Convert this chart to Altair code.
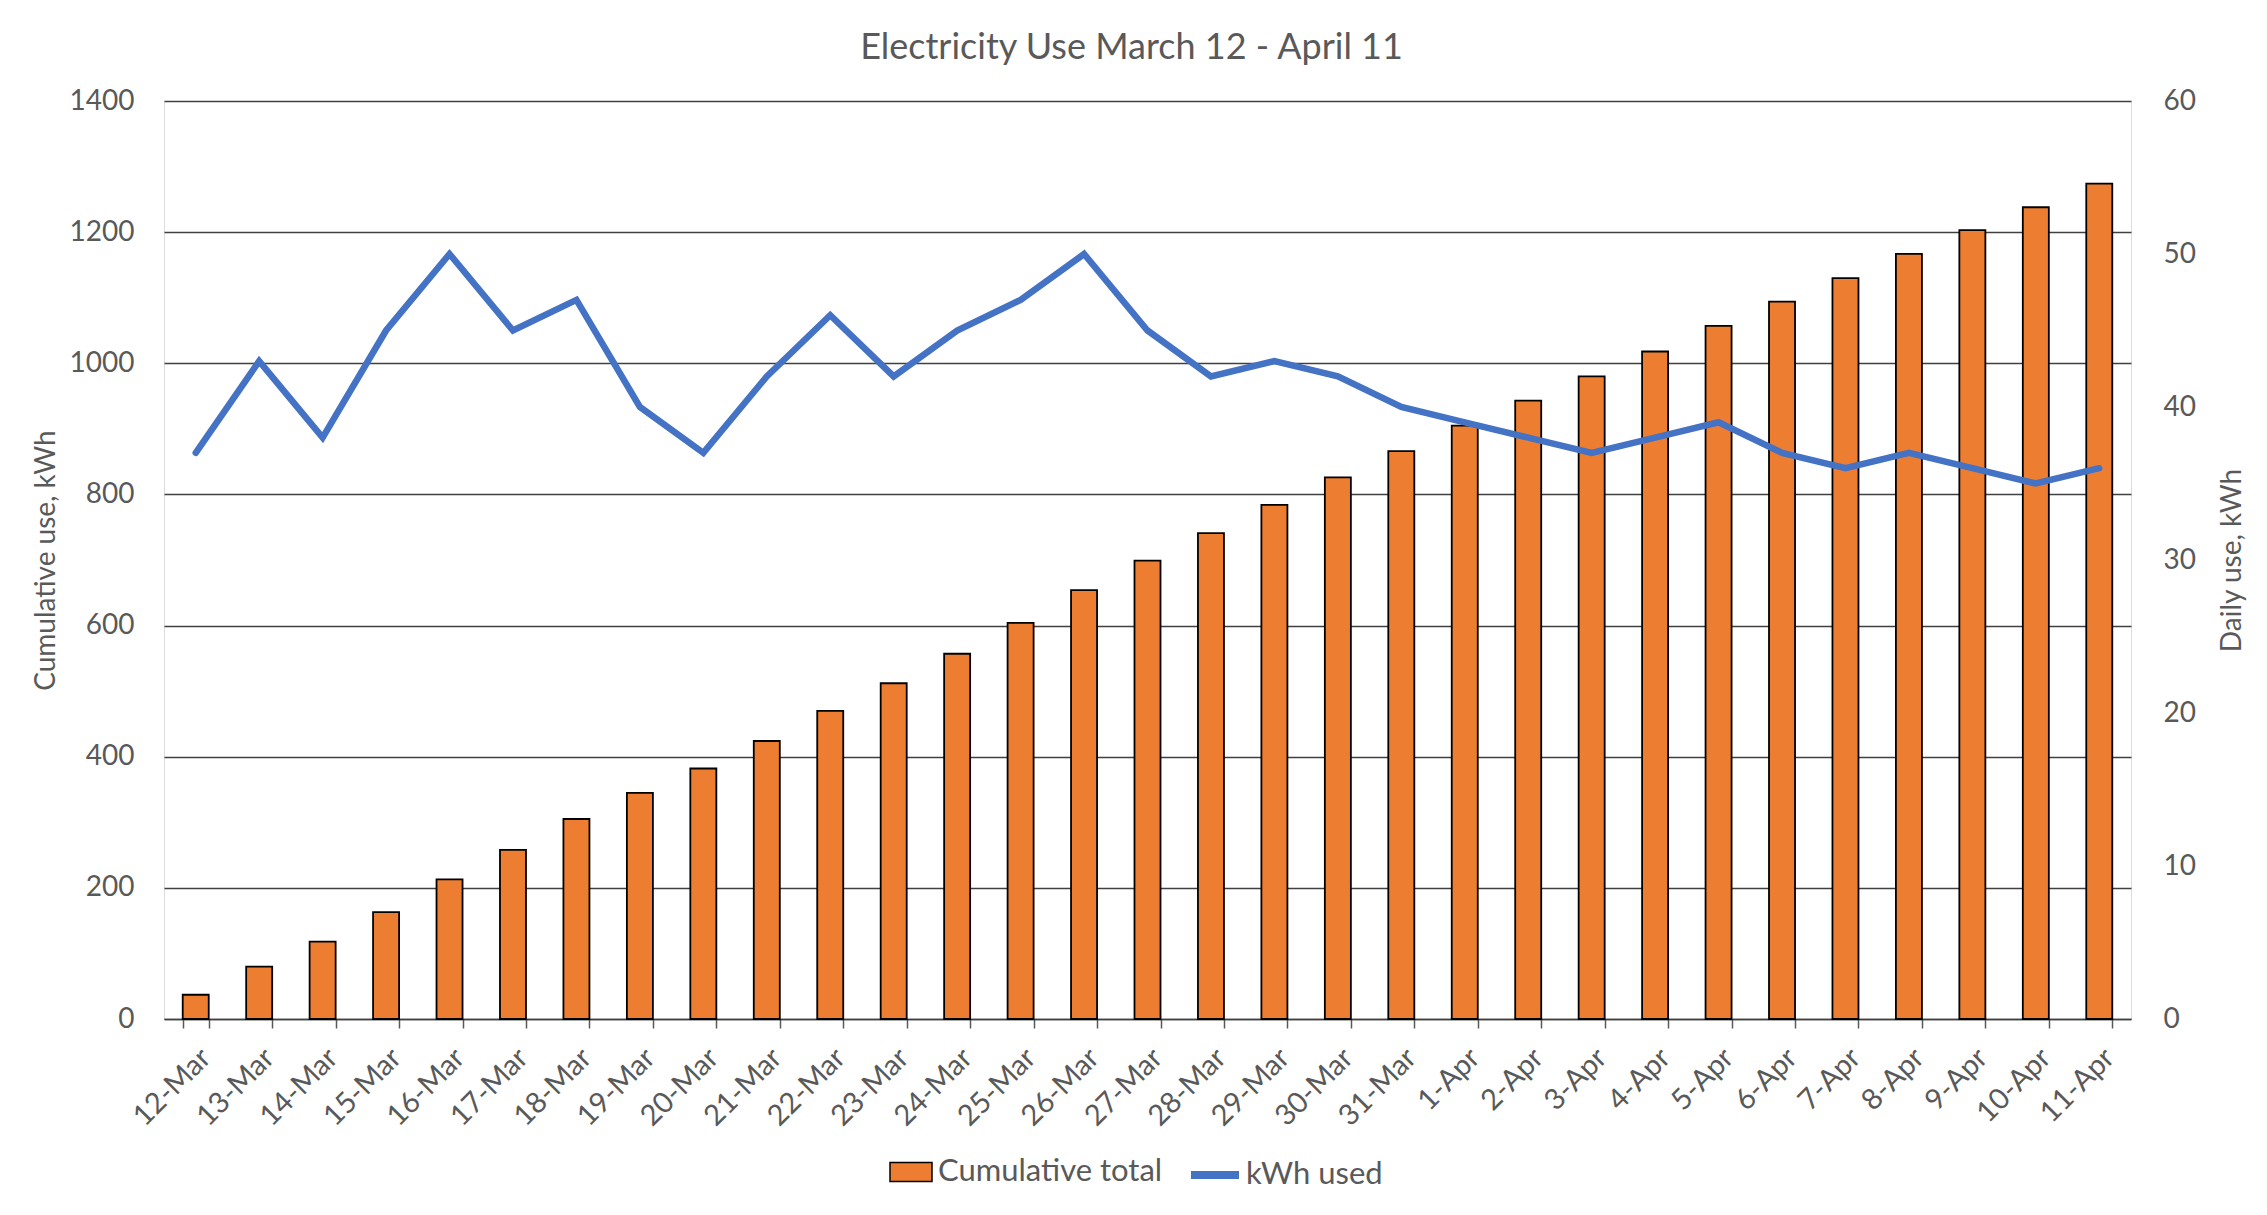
import altair as alt
import pandas as pd

dates = ["12-Mar", "13-Mar", "14-Mar", "15-Mar", "16-Mar", "17-Mar", "18-Mar",
         "19-Mar", "20-Mar", "21-Mar", "22-Mar", "23-Mar", "24-Mar", "25-Mar",
         "26-Mar", "27-Mar", "28-Mar", "29-Mar", "30-Mar", "31-Mar",
         "1-Apr", "2-Apr", "3-Apr", "4-Apr", "5-Apr", "6-Apr", "7-Apr",
         "8-Apr", "9-Apr", "10-Apr", "11-Apr"]
cumulative = [37, 80, 118, 163, 213, 258, 305, 345, 382, 424, 470, 512, 557, 604,
              654, 699, 741, 784, 826, 866, 905, 943, 980, 1018, 1057, 1094, 1130,
              1167, 1203, 1238, 1274]
daily = [37, 43, 38, 45, 50, 45, 47, 40, 37, 42, 46, 42, 45, 47, 50, 45, 42, 43,
         42, 40, 39, 38, 37, 38, 39, 37, 36, 37, 36, 35, 36]
left_ticks = [0, 200, 400, 600, 800, 1000, 1200, 1400]
right_ticks = [0, 10, 20, 30, 40, 50, 60]
bar_name = "Cumulative total"
line_name = "kWh used"

df = pd.DataFrame({
    "date": dates,
    "cumulative": cumulative,
    "daily": daily,
    "bar_series": [bar_name] * len(dates),
    "line_series": [line_name] * len(dates),
})

FONT = "Lato"
TXT = "#595959"
W, H = 1967, 918

x = alt.X(
    "date:N", sort=dates, title=None,
    scale=alt.Scale(paddingInner=0.59, paddingOuter=0.295),
    axis=alt.Axis(
        labelAngle=-45, labelAlign="right", labelBaseline="top", labelPadding=15,
        tickBand="extent", tickSize=9, tickColor="#595959", tickWidth=1.5,
        domainColor="#404040", domainWidth=1.5, grid=False,
        labelFontSize=29, labelColor=TXT, labelFont=FONT,
    ),
)

base = alt.Chart(df)

bars = base.mark_bar(stroke="black", strokeWidth=1.8).encode(
    x=x,
    y=alt.Y(
        "cumulative:Q",
        scale=alt.Scale(domain=[0, 1400], nice=False),
        axis=alt.Axis(
            values=left_ticks, format="d", title="Cumulative use, kWh", grid=True,
            gridColor="#404040", gridWidth=1.4, domain=False, ticks=False,
            labelPadding=30, labelFontSize=28, labelColor=TXT, labelFont=FONT,
            titleFontSize=28, titleColor=TXT, titleFont=FONT, titleFontWeight="normal",
            titleAngle=270, titleX=-118, titleY=H / 2, titleAlign="center",
            titleBaseline="middle",
        ),
    ),
    fill=alt.Fill(
        "bar_series:N",
        scale=alt.Scale(domain=[bar_name], range=["#ED7D31"]),
        legend=alt.Legend(
            orient="none", legendX=725, legendY=1049, title=None,
            symbolType="M-1,-0.45H1V0.45H-1Z", symbolSize=1764,
            symbolStrokeColor="black", symbolStrokeWidth=1.5, symbolOpacity=1,
            labelFontSize=31, labelFont=FONT, labelColor=TXT, labelOffset=5,
            labelLimit=600,
        ),
    ),
)

line = base.mark_line(strokeWidth=6.5, strokeCap="round").encode(
    x=x,
    y=alt.Y(
        "daily:Q",
        scale=alt.Scale(domain=[0, 60], nice=False),
        axis=alt.Axis(
            orient="right", values=right_ticks, format="d", title="Daily use, kWh",
            grid=False, domain=False, ticks=False, labelPadding=32, labelFontSize=28,
            labelColor=TXT, labelFont=FONT,
            titleFontSize=28, titleColor=TXT, titleFont=FONT, titleFontWeight="normal",
            titleAngle=270, titleX=101, titleY=H / 2, titleAlign="center",
            titleBaseline="middle",
        ),
    ),
    stroke=alt.Stroke(
        "line_series:N",
        scale=alt.Scale(domain=[line_name], range=["#4472C4"]),
        legend=alt.Legend(
            orient="none", legendX=1023, legendY=1046, title=None,
            symbolType="stroke", symbolSize=2304, symbolStrokeWidth=8,
            labelFontSize=31, labelFont=FONT, labelColor=TXT, labelOffset=3,
            labelLimit=600,
        ),
    ),
)

chart = alt.layer(bars, line).resolve_scale(y="independent").properties(
    width=W, height=H,
    autosize=alt.AutoSizeParams(type="none"),
    padding={"left": 156, "top": 93, "right": 125, "bottom": 175},
    title=alt.TitleParams(
        text="Electricity Use March 12 - April 11", fontSize=36, font=FONT,
        color=TXT, fontWeight="normal", anchor="middle", frame="group",
        baseline="alphabetic", offset=30, dx=-16, dy=38,
    ),
).configure_view(stroke=None).configure(background="white")

chart.save("out.html", embed_options={"renderer": "svg", "actions": False})
